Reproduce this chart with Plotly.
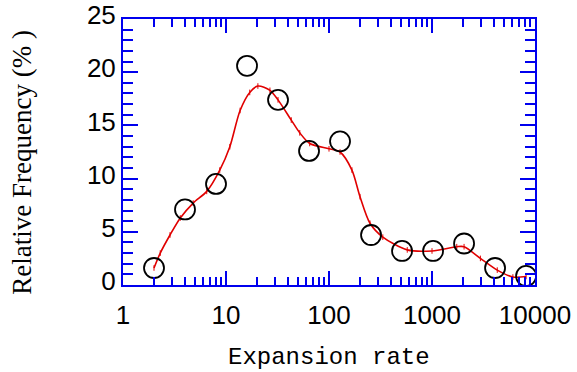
import plotly.graph_objects as go

# Measured data (open circles)
expansion_rate = [2, 4, 8, 16, 32, 64, 128, 256, 512, 1024, 2048, 4096, 8192]
rel_frequency = [1.6, 7.1, 9.5, 20.6, 17.4, 12.6, 13.5, 4.7, 3.2, 3.2, 3.9, 1.6, 0.85]

# Smoothed fit curve (red)
fit_x = [2, 2.3, 2.86, 3.6, 4.8, 6.5, 8.7, 10.9, 13.7, 17, 20.4, 26.7, 32, 43, 52,
         65, 100, 128, 167, 200, 250, 333, 575, 1000, 1740, 2048, 2950, 4300, 6100, 8200]
fit_y = [1.6, 3.0, 4.7, 6.3, 7.7, 8.8, 10.8, 13.0, 16.4, 18.1, 18.7, 18.3, 17.4, 15.5, 14.3,
         13.3, 12.8, 12.5, 10.8, 8.3, 5.8, 4.5, 3.3, 3.2, 3.6, 3.6, 2.5, 1.4, 0.75, 0.8]

x_major = [1, 10, 100, 1000, 10000]
x_major_text = ["1", "10", "100", "1000", "10000"]
x_minor = [m * 10 ** k for k in range(4) for m in range(2, 10)]

blue = "#0000ee"

fig = go.Figure()
fig.add_trace(go.Scatter(
    x=fit_x, y=fit_y, mode="lines+markers",
    line=dict(color="#e00000", width=1.6, shape="spline", smoothing=0.8),
    marker=dict(symbol="line-ns", size=4, line=dict(color="#e00000", width=1)),
    hoverinfo="skip", showlegend=False))
fig.add_trace(go.Scatter(
    x=expansion_rate, y=rel_frequency, mode="markers",
    marker=dict(symbol="circle-open", size=20, color="black", line=dict(color="black", width=1.8)),
    showlegend=False))

tickfont = dict(family="Liberation Sans, Arial, sans-serif", size=26, color="black")

fig.update_layout(
    template="none",
    width=577, height=372,
    margin=dict(l=123, r=42, t=19, b=87),
    paper_bgcolor="white", plot_bgcolor="white",
    xaxis=dict(
        type="log", range=[0, 4], automargin=False,
        tickvals=x_major, ticktext=x_major_text,
        showline=True, linecolor=blue, linewidth=2, mirror="ticks",
        ticks="inside", ticklen=14, tickwidth=2, tickcolor=blue,
        minor=dict(tickvals=x_minor, ticks="inside", ticklen=8, tickwidth=2, tickcolor=blue),
        showgrid=False, zeroline=False, tickfont=tickfont, ticklabelstandoff=6,
    ),
    yaxis=dict(
        range=[0, 25], dtick=5, tick0=0, automargin=False,
        showline=True, linecolor=blue, linewidth=2, mirror="ticks",
        ticks="inside", ticklen=15, tickwidth=2, tickcolor=blue,
        minor=dict(dtick=1, ticks="inside", ticklen=10, tickwidth=2, tickcolor=blue),
        showgrid=False, zeroline=False, tickfont=tickfont, ticklabelshift=-4,
    ),
    annotations=[
        dict(text="Expansion rate", xref="paper", yref="paper", x=0.5, y=-0.272,
             xanchor="center", yanchor="middle", showarrow=False,
             font=dict(family="Liberation Mono, monospace", size=24, color="black")),
        dict(text="Relative Frequency (% )", xref="paper", yref="paper", x=-0.245, y=0.46,
             xanchor="center", yanchor="middle", textangle=-90, showarrow=False,
             font=dict(family="Liberation Serif, Times New Roman, serif", size=27, color="black")),
    ],
)

fig.write_html("out.html", config={"displayModeBar": False},
               post_script="document.body.style.margin='0';")
